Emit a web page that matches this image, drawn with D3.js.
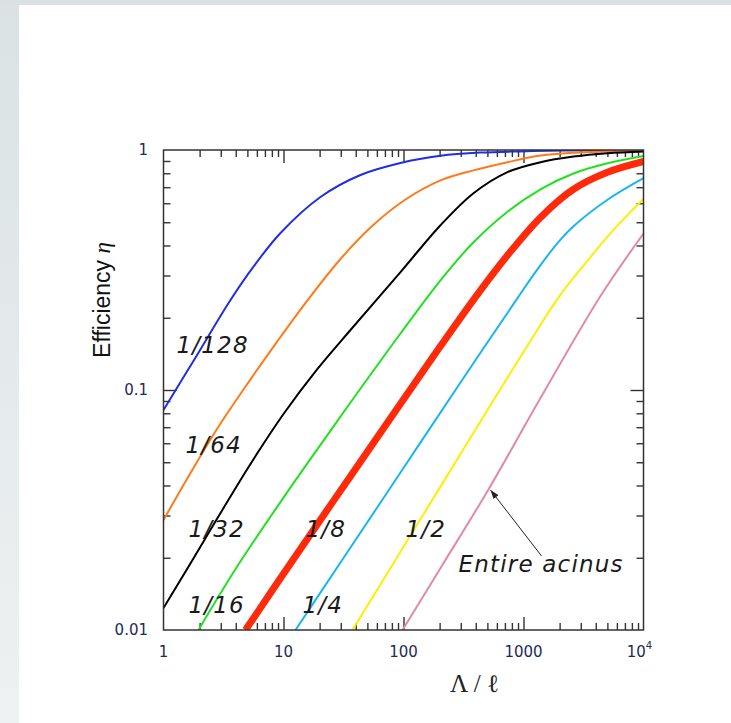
<!DOCTYPE html>
<html><head><meta charset="utf-8">
<script src="https://cdn.jsdelivr.net/npm/d3@7"></script>
<style>html,body{margin:0;padding:0;background:#fff;}</style>
</head><body>
<svg id="chart" width="731" height="723"></svg>
<script>
// ---- data (x = Λ/ℓ, y = efficiency η) ----
const curve128 = [[1,0.0825],[1.884,0.1387],[3.617,0.2371],[5.623,0.3265],[9.441,0.451],[20.34,0.637],[43.8,0.7867],[94.4,0.8826],[203.4,0.9459],[438,0.9754],[944,0.9867],[2154,0.9943],[10000,1.0]];
const curve64  = [[1,0.02873],[1.679,0.0451],[2.818,0.06931],[5.309,0.1107],[8.913,0.1599],[15.85,0.2365],[29.85,0.3514],[53.09,0.4755],[103.9,0.622],[203.4,0.7474],[383.1,0.8222],[735.6,0.8896],[1386,0.9477],[2985,0.977],[10000,0.995]];
const curve32  = [[1,0.01235],[1.745,0.01957],[2.818,0.02929],[5.309,0.0492],[10,0.0794],[19.2,0.1224],[36.16,0.1778],[94.4,0.3101],[203.4,0.486],[383.1,0.6607],[735.6,0.809],[1386,0.8896],[2610,0.9387],[5012,0.9698],[10000,0.9867]];
const curve16  = [[1.957,0.01],[2.985,0.01422],[4.383,0.01933],[10,0.0356],[20.34,0.05911],[36.16,0.0887],[94.4,0.172],[203.4,0.2865],[383.1,0.4125],[735.6,0.5534],[1386,0.686],[2610,0.798],[5012,0.88],[10000,0.944]];
const curve8   = [[4.824,0.01],[10,0.01715],[20.34,0.02882],[36.16,0.04373],[94.4,0.0877],[203.4,0.1524],[413.6,0.2504],[735.6,0.3642],[1386,0.5238],[2610,0.686],[5012,0.8074],[10000,0.8957]];
const curve4   = [[12.59,0.01],[29.85,0.0191],[94.4,0.0453],[298.5,0.1075],[1000,0.2628],[1386,0.3311],[1920,0.4094],[2610,0.481],[5012,0.6202],[10000,0.7627]];
const curve2   = [[37.58,0.01],[94.4,0.02118],[298.5,0.0541],[1000,0.144],[2034,0.2497],[3617,0.3579],[5012,0.4352],[6813,0.5154],[10000,0.6245]];
const curveAll = [[98.1,0.01],[215.4,0.01898],[510.9,0.03853],[1386,0.0926],[4383,0.2464],[10000,0.4484]];

const seriesData   = [curve128, curve64, curve32, curve16, curve8, curve4, curve2, curveAll];
const seriesColors = ["#1f2fe0", "#ff7a1a", "#000000", "#22e022", "#ff2a0a", "#19b6ee", "#ffee00", "#e08aa8"];
const seriesWidths = [2, 2, 2, 2, 7, 2, 2, 2];

const labelTexts = ["1/128", "1/64", "1/32", "1/16", "1/8", "1/4", "1/2", "Entire acinus"];
const labelX     = [1.283, 1.525, 1.616, 1.616, 15.25, 14.4, 103.9, 287];
const labelY     = [0.1426, 0.0546, 0.0244, 0.01177, 0.0244, 0.01177, 0.0244, 0.01745];
const arrowFrom  = [1413, 0.02034];
const arrowTo    = [531, 0.0383];

const xTickValues = [1, 10, 100, 1000, 10000];
const xTickLabels = ["1", "10", "100", "1000", "10^4"];
const yTickValues = [0.01, 0.1, 1];
const yTickLabels = ["0.01", "0.1", "1"];
const xTitle = "Λ / ℓ";
const yTitle = "Efficiency ";

// ---- drawing ----
const svg = d3.select("#chart");
const W = 731, H = 723;
const defs = svg.append("defs");
const grad = defs.append("linearGradient").attr("id","lg").attr("x1",0).attr("y1",0).attr("x2",0).attr("y2",1);
grad.append("stop").attr("offset","0%").attr("stop-color","#dae2e4");
grad.append("stop").attr("offset","100%").attr("stop-color","#eef1f2");
svg.append("rect").attr("width",W).attr("height",H).attr("fill","#fff");
svg.append("rect").attr("x",0).attr("y",0).attr("width",19).attr("height",H).attr("fill","url(#lg)");
svg.append("rect").attr("x",0).attr("y",0).attr("width",W).attr("height",5).attr("fill","#d9e1e3");

const L = 163.5, R = 643.5, T = 150, B = 630;
const x = d3.scaleLog().domain([1, 1e4]).range([L, R]);
const y = d3.scaleLog().domain([0.01, 1]).range([B, T]);

defs.append("clipPath").attr("id","plot").append("rect").attr("x",L).attr("y",T).attr("width",R-L).attr("height",B-T);

const minorX = [], minorY = [];
for (let d = 1; d < 1e4; d *= 10) for (let k = 2; k <= 9; k++) minorX.push(d*k);
for (let d = 0.01; d < 0.99; d *= 10) for (let k = 2; k <= 9; k++) minorY.push(+(d*k).toPrecision(3));

const axColor = "#333";
function addAxis(gen, tf, vals, size) {
  const g = svg.append("g").attr("transform", tf)
    .call(gen.tickValues(vals).tickSize(-size).tickSizeOuter(0).tickFormat(""));
  g.select(".domain").remove();
  g.selectAll("line").attr("stroke", axColor).attr("stroke-width", 1.4);
}
const majX = xTickValues.slice(1, -1), majY = yTickValues.slice(1, -1);
addAxis(d3.axisBottom(x), `translate(0,${B})`, majX, 13);
addAxis(d3.axisBottom(x), `translate(0,${B})`, minorX, 7);
addAxis(d3.axisTop(x), `translate(0,${T})`, majX, 13);
addAxis(d3.axisTop(x), `translate(0,${T})`, minorX, 7);
addAxis(d3.axisLeft(y), `translate(${L},0)`, majY, 13);
addAxis(d3.axisLeft(y), `translate(${L},0)`, minorY, 7);
addAxis(d3.axisRight(y), `translate(${R},0)`, majY, 13);
addAxis(d3.axisRight(y), `translate(${R},0)`, minorY, 7);

// curves
const line = d3.line().x(d => x(d[0])).y(d => y(d[1])).curve(d3.curveCatmullRom.alpha(0.5));
const cg = svg.append("g").attr("clip-path","url(#plot)");
seriesData.forEach((s, i) => {
  cg.append("path").attr("d", line(s)).attr("fill","none")
    .attr("stroke", seriesColors[i]).attr("stroke-width", seriesWidths[i])
    .attr("stroke-linejoin","round").attr("stroke-linecap","butt");
});

// frame
svg.append("rect").attr("x",L).attr("y",T).attr("width",R-L).attr("height",B-T)
  .attr("fill","none").attr("stroke",axColor).attr("stroke-width",1.5);

// tick labels
const tickFont = "'DejaVu Sans', sans-serif", tickColor = "#1d2b58";
xTickValues.forEach((v, i) => {
  const lab = xTickLabels[i];
  const t = svg.append("text").attr("x", x(v)).attr("y", 657).attr("text-anchor","middle")
    .attr("font-family", tickFont).attr("font-size", 15).attr("fill", tickColor);
  if (lab.includes("^")) {
    const [b, e] = lab.split("^");
    t.attr("x", x(v) - 4);
    t.append("tspan").text(b);
    t.append("tspan").attr("font-size", 10).attr("dy", -8).text(e);
  } else t.text(lab);
});
yTickValues.forEach((v, i) => {
  svg.append("text").attr("x", 148).attr("y", y(v)).attr("dy","0.35em").attr("text-anchor","end")
    .attr("font-family", tickFont).attr("font-size", 15).attr("fill", tickColor).text(yTickLabels[i]);
});

// axis titles
svg.append("text").attr("x", 450).attr("y", 692)
  .attr("font-family","'Liberation Serif', serif").attr("font-size", 25).attr("fill","#222")
  .text(xTitle);
const yt = svg.append("text").attr("transform","translate(110,300) rotate(-90)").attr("text-anchor","middle")
  .attr("font-family","'Liberation Sans', Arial, sans-serif").attr("font-size", 23).attr("fill","#111");
yt.append("tspan").text(yTitle);
yt.append("tspan").attr("font-family","'Liberation Serif', serif").attr("font-style","italic").text("η");

// curve labels
labelTexts.forEach((t, i) => {
  svg.append("text").attr("x", x(labelX[i])).attr("y", y(labelY[i]))
    .attr("font-family","'DejaVu Sans', sans-serif").attr("font-style","italic")
    .attr("font-size", 23).attr("letter-spacing", 1.2).attr("fill","#1a1a1a").text(t);
});

// arrow
defs.append("marker").attr("id","ah").attr("viewBox","0 0 10 10").attr("refX",10).attr("refY",5)
  .attr("markerWidth",9).attr("markerHeight",9).attr("markerUnits","userSpaceOnUse").attr("orient","auto")
  .append("path").attr("d","M0,1.5 L10,5 L0,8.5 Z").attr("fill","#222");
svg.append("line").attr("x1", x(arrowFrom[0])).attr("y1", y(arrowFrom[1]))
  .attr("x2", x(arrowTo[0])).attr("y2", y(arrowTo[1]))
  .attr("stroke","#222").attr("stroke-width",1).attr("marker-end","url(#ah)");
</script>
</body></html>
